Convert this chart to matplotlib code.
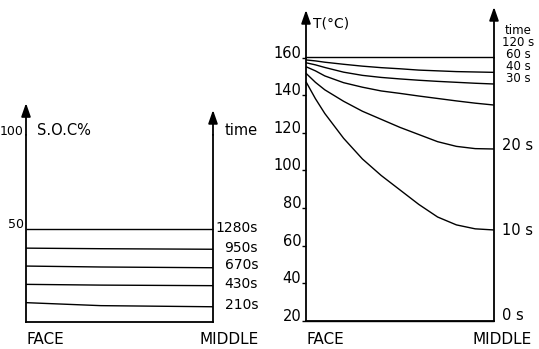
import numpy as np
import matplotlib
matplotlib.use("Agg")
import matplotlib.pyplot as plt
from matplotlib.transforms import blended_transform_factory

plt.rcParams["font.family"] = ["DejaVu Sans"]

# ---- state of charge profiles (left panel) ----
positions = ["FACE", "MIDDLE"]
soc_x = [0.0, 0.4, 1.0]
soc_times = ["1280s", "950s", "670s", "430s", "210s"]
soc_1280 = [49.5, 49.5, 49.5]
soc_950 = [39.4, 39.1, 38.8]
soc_670 = [29.8, 29.3, 28.9]
soc_430 = [20.0, 19.6, 19.3]
soc_210 = [10.2, 8.6, 8.0]
soc_label_y = [48.2, 37.5, 28.2, 17.9, 6.6]
soc_ticks = [50, 100]

# ---- temperature profiles (right panel) ----
temp_x = [0.0, 0.05, 0.1, 0.2, 0.3, 0.4, 0.5, 0.6, 0.7, 0.8, 0.9, 1.0]
temp_times = ["120 s", "60 s", "40 s", "30 s", "20 s", "10 s", "0 s"]
t_120 = [160.2, 160.2, 160.2, 160.2, 160.2, 160.2, 160.2, 160.2, 160.2, 160.2, 160.2, 160.2]
t_60 = [158.8, 158.3, 157.6, 156.5, 155.5, 154.7, 154.1, 153.4, 153.0, 152.6, 152.4, 152.2]
t_40 = [157.3, 156.2, 154.8, 152.3, 150.6, 149.5, 148.7, 148.0, 147.4, 146.9, 146.4, 146.0]
t_30 = [155.2, 153.0, 150.3, 146.7, 144.3, 142.3, 141.0, 139.6, 138.3, 137.0, 135.8, 134.8]
t_20 = [151.7, 146.9, 142.9, 136.8, 131.5, 127.2, 122.9, 119.1, 115.3, 112.8, 111.6, 111.4]
t_10 = [147.2, 138.2, 130.3, 117.1, 106.1, 97.3, 89.6, 81.9, 75.2, 71.0, 68.9, 68.3]
t_0 = [20.0, 20.0, 20.0, 20.0, 20.0, 20.0, 20.0, 20.0, 20.0, 20.0, 20.0, 20.0]
temp_label_y = [166.2, 159.8, 153.4, 147.0, 110.8, 65.6, 20.4]
temp_ticks = [20, 40, 60, 80, 100, 120, 140, 160]

W, H = 539, 349
fig = plt.figure(figsize=(W / 100, H / 100), dpi=100)
fig.patch.set_facecolor("white")

AX_LW = 1.3
LINE_LW = 1.0
FS = 10.0
FS_STACK = 8.5


def px_axes(x0, x1, ybot, ytop):
    return fig.add_axes([x0 / W, (H - ybot) / H, (x1 - x0) / W, (ybot - ytop) / H])


def frame(ax, ymin, ymax, tip_left, tip_right):
    ax.set_xlim(0, 1)
    ax.set_ylim(ymin, ymax)
    ax.spines["top"].set_visible(False)
    for s in ("left", "right", "bottom"):
        ax.spines[s].set_linewidth(AX_LW)
    ax.set_xticks([])
    ax.patch.set_alpha(0)
    arrow = dict(arrowstyle="-|>,head_length=0.8,head_width=0.28",
                 lw=AX_LW, color="black", shrinkA=0, shrinkB=0)
    ax.annotate("", xy=(0, tip_left), xytext=(0, ymax), arrowprops=arrow,
                annotation_clip=False)
    ax.annotate("", xy=(1, tip_right), xytext=(1, ymax), arrowprops=arrow,
                annotation_clip=False)


def fig_text(xpx, text, **kw):
    fig.text(xpx / W, (H - 343.5) / H, text, fontsize=11, ha="left",
             va="baseline", **kw)


def px_x(xpx):
    return xpx / W


# Left panel: S.O.C.
axL = px_axes(26, 213, 321.7, 135)
frame(axL, 0, 100, 117.1, 113.4)
for ys in (soc_1280, soc_950, soc_670, soc_430, soc_210):
    axL.plot(soc_x, ys, color="black", lw=LINE_LW, solid_capstyle="butt",
             clip_on=False)
axL.set_yticks(soc_ticks)
axL.set_yticklabels([str(t) for t in soc_ticks], fontsize=9)
axL.tick_params(axis="y", length=0, pad=1.5)
for lab in axL.get_yticklabels():
    lab.set_va("baseline")
blL = blended_transform_factory(fig.transFigure, axL.transData)
for name, yl in zip(soc_times, soc_label_y):
    axL.text(px_x(258), yl, name, fontsize=FS, va="baseline", ha="right",
             transform=blL)
axL.text(px_x(37), 100.0, "S.O.C%", fontsize=10.5, va="baseline", ha="left",
         transform=blL)
axL.text(px_x(258), 100.0, "time", fontsize=10.5, va="baseline", ha="right",
         transform=blL)
fig_text(26, positions[0])
fig_text(200, positions[1])

# Right panel: temperature
axR = px_axes(306, 494, 320.7, 57.7)
frame(axR, 20, 160, 185.4, 187.0)
for ys in (t_120, t_60, t_40, t_30, t_20, t_10, t_0):
    axR.plot(temp_x, ys, color="black", lw=LINE_LW, solid_capstyle="butt",
             clip_on=False)
axR.set_yticks(temp_ticks)
axR.set_yticklabels([str(t) for t in temp_ticks], fontsize=10.5)
axR.tick_params(axis="y", length=3, width=1.0, pad=0.5)
for lab in axR.get_yticklabels():
    lab.set_va("baseline")
blR = blended_transform_factory(fig.transFigure, axR.transData)
# crowded labels near the top are centred in the margin, the rest sit by the axis
for name, yl in zip(temp_times[:4], temp_label_y[:4]):
    axR.text(px_x(518), yl, name, fontsize=FS_STACK, va="baseline", ha="center",
             transform=blR)
for name, yl in zip(temp_times[4:], temp_label_y[4:]):
    axR.text(px_x(502), yl, name, fontsize=10.5, va="baseline", ha="left",
             transform=blR)
axR.text(px_x(313), 176.3, "T(°C)", fontsize=FS, va="baseline", ha="left",
         transform=blR)
axR.text(px_x(518), 172.6, "time", fontsize=FS_STACK, va="baseline", ha="center",
         transform=blR)
fig_text(307, positions[0])
fig_text(473, positions[1])

fig.savefig("out.png", dpi=100, facecolor="white")
